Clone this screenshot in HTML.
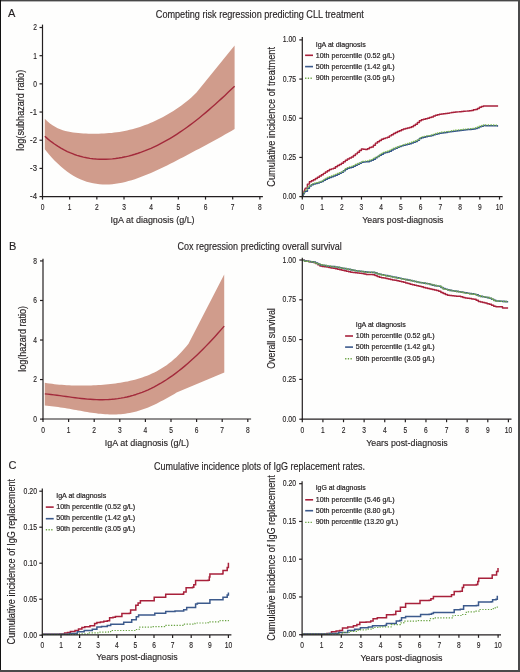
<!DOCTYPE html>
<html><head><meta charset="utf-8"><style>
html,body{margin:0;padding:0;background:#fff;}
#fig{will-change:transform;position:relative;width:520px;height:672px;overflow:hidden;background:#fefefd;}
svg{position:absolute;left:0;top:0;}
text{font-family:"Liberation Sans", sans-serif;fill:#231f20;}
text{stroke:#231f20;stroke-width:0.14px;}
text.lg{stroke-width:0.2px;}
</style></head><body><div id="fig">
<svg width="520" height="672" viewBox="0 0 520 672">
<rect x="0" y="0" width="520" height="672" fill="#fefefd"/>
<text x="8.00" y="17.10" font-size="11">A</text>
<text x="9.00" y="249.60" font-size="11">B</text>
<text x="8.40" y="469.40" font-size="11">C</text>
<text x="155.80" y="18.15" font-size="10.2" textLength="208.00" lengthAdjust="spacingAndGlyphs">Competing risk regression predicting CLL treatment</text>
<text x="177.60" y="250.10" font-size="10.2" textLength="164.10" lengthAdjust="spacingAndGlyphs">Cox regression predicting overall survival</text>
<text x="154.00" y="469.60" font-size="10.2" textLength="211.00" lengthAdjust="spacingAndGlyphs">Cumulative incidence plots of IgG replacement rates.</text>
<path d="M44.80,118.72 L47.37,121.27 L49.94,123.45 L52.51,125.29 L55.08,126.85 L57.66,128.15 L60.23,129.25 L62.80,130.16 L65.37,130.91 L67.94,131.54 L70.51,132.05 L73.08,132.47 L75.65,132.81 L78.23,133.09 L80.80,133.30 L83.37,133.47 L85.94,133.60 L88.51,133.68 L91.08,133.73 L93.65,133.75 L96.22,133.73 L98.79,133.68 L101.37,133.59 L103.94,133.47 L106.51,133.31 L109.08,133.12 L111.65,132.88 L114.22,132.60 L116.79,132.27 L119.36,131.89 L121.94,131.47 L124.51,130.99 L127.08,130.46 L129.65,129.87 L132.22,129.22 L134.79,128.52 L137.36,127.76 L139.93,126.94 L142.51,126.06 L145.08,125.12 L147.65,124.13 L150.22,123.07 L152.79,121.96 L155.36,120.79 L157.93,119.56 L160.50,118.28 L163.07,116.93 L165.65,115.53 L168.22,114.07 L170.79,112.54 L173.36,110.95 L175.93,109.29 L178.50,107.55 L181.07,105.73 L183.64,103.82 L186.22,101.81 L188.79,99.68 L191.36,97.42 L193.93,95.01 L196.50,92.43 L234.60,45.40 L234.60,128.99 L231.38,130.90 L228.17,132.77 L224.95,134.61 L221.73,136.42 L218.52,138.21 L215.30,139.98 L212.08,141.73 L208.86,143.47 L205.65,145.21 L202.43,146.93 L199.21,148.65 L196.00,150.36 L192.78,152.07 L189.56,153.77 L186.35,155.47 L183.13,157.16 L179.91,158.83 L176.69,160.50 L173.48,162.14 L170.26,163.77 L167.04,165.38 L163.83,166.96 L160.61,168.51 L157.39,170.02 L154.18,171.50 L150.96,172.92 L147.74,174.30 L144.53,175.62 L141.31,176.87 L138.09,178.06 L134.87,179.16 L131.66,180.19 L128.44,181.12 L125.22,181.96 L122.01,182.69 L118.79,183.31 L115.57,183.81 L112.36,184.18 L109.14,184.42 L105.92,184.51 L102.71,184.45 L99.49,184.24 L96.27,183.86 L93.05,183.30 L89.84,182.56 L86.62,181.64 L83.40,180.52 L80.19,179.19 L76.97,177.66 L73.75,175.90 L70.54,173.92 L67.32,171.71 L64.10,169.26 L60.88,166.57 L57.67,163.62 L54.45,160.42 L51.23,156.95 L48.02,153.22 L44.80,149.21 Z" fill="#d09c8c" stroke="none" stroke-linejoin="round"/>
<path d="M44.80,136.29 L48.02,139.10 L51.23,141.68 L54.45,144.04 L57.67,146.20 L60.88,148.16 L64.10,149.93 L67.32,151.53 L70.54,152.95 L73.75,154.22 L76.97,155.32 L80.19,156.28 L83.40,157.10 L86.62,157.78 L89.84,158.32 L93.05,158.74 L96.27,159.04 L99.49,159.22 L102.71,159.29 L105.92,159.24 L109.14,159.09 L112.36,158.83 L115.57,158.47 L118.79,158.02 L122.01,157.46 L125.22,156.81 L128.44,156.06 L131.66,155.22 L134.87,154.29 L138.09,153.27 L141.31,152.16 L144.53,150.96 L147.74,149.67 L150.96,148.30 L154.18,146.84 L157.39,145.30 L160.61,143.67 L163.83,141.96 L167.04,140.17 L170.26,138.30 L173.48,136.34 L176.69,134.31 L179.91,132.19 L183.13,130.00 L186.35,127.74 L189.56,125.39 L192.78,122.98 L196.00,120.50 L199.21,117.94 L202.43,115.32 L205.65,112.64 L208.86,109.89 L212.08,107.09 L215.30,104.24 L218.52,101.33 L221.73,98.38 L224.95,95.39 L228.17,92.36 L231.38,89.31 L234.60,86.22" fill="none" stroke="#a32a3b" stroke-width="1.4" stroke-linejoin="round"/>
<line x1="42.50" y1="24.60" x2="42.50" y2="197.20" stroke="#231f20" stroke-width="1.2"/>
<line x1="39.50" y1="27.50" x2="42.50" y2="27.50" stroke="#231f20" stroke-width="1.2"/>
<text x="37.00" y="30.40" font-size="8.2" text-anchor="end" textLength="3.70" lengthAdjust="spacingAndGlyphs">2</text>
<line x1="39.50" y1="55.68" x2="42.50" y2="55.68" stroke="#231f20" stroke-width="1.2"/>
<text x="37.00" y="58.58" font-size="8.2" text-anchor="end" textLength="3.70" lengthAdjust="spacingAndGlyphs">1</text>
<line x1="39.50" y1="83.86" x2="42.50" y2="83.86" stroke="#231f20" stroke-width="1.2"/>
<text x="37.00" y="86.76" font-size="8.2" text-anchor="end" textLength="3.70" lengthAdjust="spacingAndGlyphs">0</text>
<line x1="39.50" y1="112.04" x2="42.50" y2="112.04" stroke="#231f20" stroke-width="1.2"/>
<text x="37.00" y="114.94" font-size="8.2" text-anchor="end" textLength="6.90" lengthAdjust="spacingAndGlyphs">-1</text>
<line x1="39.50" y1="140.22" x2="42.50" y2="140.22" stroke="#231f20" stroke-width="1.2"/>
<text x="37.00" y="143.12" font-size="8.2" text-anchor="end" textLength="6.90" lengthAdjust="spacingAndGlyphs">-2</text>
<line x1="39.50" y1="168.40" x2="42.50" y2="168.40" stroke="#231f20" stroke-width="1.2"/>
<text x="37.00" y="171.30" font-size="8.2" text-anchor="end" textLength="6.90" lengthAdjust="spacingAndGlyphs">-3</text>
<line x1="39.50" y1="196.58" x2="42.50" y2="196.58" stroke="#231f20" stroke-width="1.2"/>
<text x="37.00" y="199.48" font-size="8.2" text-anchor="end" textLength="6.90" lengthAdjust="spacingAndGlyphs">-4</text>
<line x1="41.90" y1="196.60" x2="262.90" y2="196.60" stroke="#231f20" stroke-width="1.2"/>
<line x1="42.50" y1="196.60" x2="42.50" y2="199.60" stroke="#231f20" stroke-width="1.2"/>
<text x="42.50" y="209.80" font-size="8.2" text-anchor="middle" textLength="3.70" lengthAdjust="spacingAndGlyphs">0</text>
<line x1="69.67" y1="196.60" x2="69.67" y2="199.60" stroke="#231f20" stroke-width="1.2"/>
<text x="69.67" y="209.80" font-size="8.2" text-anchor="middle" textLength="3.70" lengthAdjust="spacingAndGlyphs">1</text>
<line x1="96.84" y1="196.60" x2="96.84" y2="199.60" stroke="#231f20" stroke-width="1.2"/>
<text x="96.84" y="209.80" font-size="8.2" text-anchor="middle" textLength="3.70" lengthAdjust="spacingAndGlyphs">2</text>
<line x1="124.01" y1="196.60" x2="124.01" y2="199.60" stroke="#231f20" stroke-width="1.2"/>
<text x="124.01" y="209.80" font-size="8.2" text-anchor="middle" textLength="3.70" lengthAdjust="spacingAndGlyphs">3</text>
<line x1="151.18" y1="196.60" x2="151.18" y2="199.60" stroke="#231f20" stroke-width="1.2"/>
<text x="151.18" y="209.80" font-size="8.2" text-anchor="middle" textLength="3.70" lengthAdjust="spacingAndGlyphs">4</text>
<line x1="178.35" y1="196.60" x2="178.35" y2="199.60" stroke="#231f20" stroke-width="1.2"/>
<text x="178.35" y="209.80" font-size="8.2" text-anchor="middle" textLength="3.70" lengthAdjust="spacingAndGlyphs">5</text>
<line x1="205.52" y1="196.60" x2="205.52" y2="199.60" stroke="#231f20" stroke-width="1.2"/>
<text x="205.52" y="209.80" font-size="8.2" text-anchor="middle" textLength="3.70" lengthAdjust="spacingAndGlyphs">6</text>
<line x1="232.69" y1="196.60" x2="232.69" y2="199.60" stroke="#231f20" stroke-width="1.2"/>
<text x="232.69" y="209.80" font-size="8.2" text-anchor="middle" textLength="3.70" lengthAdjust="spacingAndGlyphs">7</text>
<line x1="259.86" y1="196.60" x2="259.86" y2="199.60" stroke="#231f20" stroke-width="1.2"/>
<text x="259.86" y="209.80" font-size="8.2" text-anchor="middle" textLength="3.70" lengthAdjust="spacingAndGlyphs">8</text>
<text x="110.60" y="222.70" font-size="9.4" textLength="84.00" lengthAdjust="spacingAndGlyphs">IgA at diagnosis (g/L)</text>
<text x="24.00" y="110.30" font-size="10.3" text-anchor="middle" textLength="81.00" lengthAdjust="spacingAndGlyphs" transform="rotate(-90 24.00 110.30)">log(subhazard ratio)</text>
<path d="M302.50,196.20 L303.50,193.00 L305.40,188.10 L305.40,188.10 L307.40,188.10 L307.40,184.10 L309.40,184.10 L309.40,181.71 L311.40,181.71 L311.40,180.84 L313.40,180.84 L313.40,179.68 L315.40,179.68 L315.40,178.50 L317.40,178.50 L317.40,177.22 L319.40,177.22 L319.40,175.94 L321.40,175.94 L321.40,174.66 L323.40,174.66 L323.40,173.35 L325.40,173.35 L325.40,172.03 L327.40,172.03 L327.40,170.77 L329.40,170.77 L329.40,169.56 L331.40,169.56 L331.40,168.88 L333.40,168.88 L333.40,168.28 L335.40,168.28 L335.40,166.79 L337.40,166.79 L337.40,165.57 L339.40,165.57 L339.40,164.52 L341.40,164.52 L341.40,163.17 L343.40,163.17 L343.40,161.69 L345.40,161.69 L345.40,160.21 L347.40,160.21 L347.40,158.95 L349.40,158.95 L349.40,157.95 L351.40,157.95 L351.40,156.95 L353.40,156.95 L353.40,155.56 L355.40,155.56 L355.40,153.86 L357.40,153.86 L357.40,152.16 L359.40,152.16 L359.40,150.45 L361.40,150.45 L361.40,149.05 L363.40,149.05 L363.40,149.25 L365.40,149.25 L365.40,149.51 L367.40,149.51 L367.40,148.75 L369.40,148.75 L369.40,147.43 L371.40,147.43 L371.40,146.99 L373.40,146.99 L373.40,145.32 L375.40,145.32 L375.40,143.13 L377.40,143.13 L377.40,141.71 L379.40,141.71 L379.40,140.47 L381.40,140.47 L381.40,139.25 L383.40,139.25 L383.40,138.41 L385.40,138.41 L385.40,137.89 L387.40,137.89 L387.40,137.17 L389.40,137.17 L389.40,135.86 L391.40,135.86 L391.40,134.66 L393.40,134.66 L393.40,133.58 L395.40,133.58 L395.40,132.51 L397.40,132.51 L397.40,131.49 L399.40,131.49 L399.40,130.65 L401.40,130.65 L401.40,129.81 L403.40,129.81 L403.40,128.97 L405.40,128.97 L405.40,128.41 L407.40,128.41 L407.40,127.93 L409.40,127.93 L409.40,127.44 L411.40,127.44 L411.40,126.72 L413.40,126.72 L413.40,125.46 L415.40,125.46 L415.40,124.20 L417.40,124.20 L417.40,122.49 L419.40,122.49 L419.40,120.75 L421.40,120.75 L421.40,119.83 L423.40,119.83 L423.40,119.31 L425.40,119.31 L425.40,118.77 L427.40,118.77 L427.40,118.18 L429.40,118.18 L429.40,117.59 L431.40,117.59 L431.40,116.90 L433.40,116.90 L433.40,116.09 L435.40,116.09 L435.40,115.28 L437.40,115.28 L437.40,114.73 L439.40,114.73 L439.40,114.32 L441.40,114.32 L441.40,113.90 L443.40,113.90 L443.40,113.65 L445.40,113.65 L445.40,113.44 L447.40,113.44 L447.40,113.15 L449.40,113.15 L449.40,112.86 L451.40,112.86 L451.40,112.57 L453.40,112.57 L453.40,112.33 L455.40,112.33 L455.40,112.09 L457.40,112.09 L457.40,111.86 L459.40,111.86 L459.40,111.65 L461.40,111.65 L461.40,111.48 L463.40,111.48 L463.40,111.31 L465.40,111.31 L465.40,111.13 L467.40,111.13 L467.40,110.95 L469.40,110.95 L469.40,110.75 L471.40,110.75 L471.40,110.41 L473.40,110.41 L473.40,109.72 L475.40,109.72 L475.40,109.48 L477.40,109.48 L477.40,108.55 L479.40,108.55 L479.40,107.23 L481.40,107.23 L481.40,106.53 L483.40,106.53 L483.40,106.00 L485.40,106.00 L485.40,106.00 L487.40,106.00 L487.40,106.00 L489.40,106.00 L489.40,106.00 L491.40,106.00 L491.40,106.00 L493.40,106.00 L493.40,106.00 L495.40,106.00 L495.40,106.00 L497.40,106.00 L497.40,106.00 L498.10,106.00" fill="none" stroke="#a8213b" stroke-width="1.45" stroke-linejoin="round"/>
<path d="M302.50,196.20 L303.50,194.50 L305.40,191.20 L305.40,191.20 L307.40,191.20 L307.40,188.17 L309.40,188.17 L309.40,185.93 L311.40,185.93 L311.40,184.66 L313.40,184.66 L313.40,184.06 L315.40,184.06 L315.40,183.50 L317.40,183.50 L317.40,182.91 L319.40,182.91 L319.40,182.31 L321.40,182.31 L321.40,181.52 L323.40,181.52 L323.40,180.25 L325.40,180.25 L325.40,179.22 L327.40,179.22 L327.40,178.24 L329.40,178.24 L329.40,177.42 L331.40,177.42 L331.40,176.78 L333.40,176.78 L333.40,176.02 L335.40,176.02 L335.40,175.15 L337.40,175.15 L337.40,174.26 L339.40,174.26 L339.40,173.37 L341.40,173.37 L341.40,172.13 L343.40,172.13 L343.40,170.75 L345.40,170.75 L345.40,169.36 L347.40,169.36 L347.40,168.34 L349.40,168.34 L349.40,167.75 L351.40,167.75 L351.40,167.16 L353.40,167.16 L353.40,166.33 L355.40,166.33 L355.40,165.28 L357.40,165.28 L357.40,164.24 L359.40,164.24 L359.40,163.20 L361.40,163.20 L361.40,162.15 L363.40,162.15 L363.40,161.97 L365.40,161.97 L365.40,161.83 L367.40,161.83 L367.40,161.67 L369.40,161.67 L369.40,161.02 L371.40,161.02 L371.40,160.36 L373.40,160.36 L373.40,159.20 L375.40,159.20 L375.40,157.87 L377.40,157.87 L377.40,156.53 L379.40,156.53 L379.40,155.27 L381.40,155.27 L381.40,154.19 L383.40,154.19 L383.40,153.10 L385.40,153.10 L385.40,152.58 L387.40,152.58 L387.40,152.06 L389.40,152.06 L389.40,151.16 L391.40,151.16 L391.40,150.11 L393.40,150.11 L393.40,149.05 L395.40,149.05 L395.40,148.19 L397.40,148.19 L397.40,147.34 L399.40,147.34 L399.40,146.49 L401.40,146.49 L401.40,145.64 L403.40,145.64 L403.40,145.13 L405.40,145.13 L405.40,144.64 L407.40,144.64 L407.40,144.14 L409.40,144.14 L409.40,143.65 L411.40,143.65 L411.40,143.06 L413.40,143.06 L413.40,142.25 L415.40,142.25 L415.40,141.44 L417.40,141.44 L417.40,140.25 L419.40,140.25 L419.40,138.60 L421.40,138.60 L421.40,137.73 L423.40,137.73 L423.40,137.21 L425.40,137.21 L425.40,136.75 L427.40,136.75 L427.40,136.37 L429.40,136.37 L429.40,135.99 L431.40,135.99 L431.40,135.48 L433.40,135.48 L433.40,134.85 L435.40,134.85 L435.40,134.22 L437.40,134.22 L437.40,133.75 L439.40,133.75 L439.40,133.37 L441.40,133.37 L441.40,132.99 L443.40,132.99 L443.40,132.71 L445.40,132.71 L445.40,132.43 L447.40,132.43 L447.40,132.08 L449.40,132.08 L449.40,131.73 L451.40,131.73 L451.40,131.39 L453.40,131.39 L453.40,131.13 L455.40,131.13 L455.40,130.89 L457.40,130.89 L457.40,130.66 L459.40,130.66 L459.40,130.44 L461.40,130.44 L461.40,130.24 L463.40,130.24 L463.40,130.04 L465.40,130.04 L465.40,129.84 L467.40,129.84 L467.40,129.61 L469.40,129.61 L469.40,129.38 L471.40,129.38 L471.40,129.15 L473.40,129.15 L473.40,128.88 L475.40,128.88 L475.40,128.52 L477.40,128.52 L477.40,127.77 L479.40,127.77 L479.40,126.80 L481.40,126.80 L481.40,126.13 L483.40,126.13 L483.40,125.61 L485.40,125.61 L485.40,125.65 L487.40,125.65 L487.40,125.69 L489.40,125.69 L489.40,125.73 L491.40,125.73 L491.40,125.77 L493.40,125.77 L493.40,125.81 L495.40,125.81 L495.40,125.85 L497.40,125.85 L497.40,125.89 L498.10,125.89" fill="none" stroke="#34548a" stroke-width="1.5" stroke-linejoin="round"/>
<path d="M302.50,195.40 L303.50,193.70 L305.40,190.40 L305.40,190.40 L307.40,190.40 L307.40,187.37 L309.40,187.37 L309.40,185.13 L311.40,185.13 L311.40,183.86 L313.40,183.86 L313.40,183.26 L315.40,183.26 L315.40,182.70 L317.40,182.70 L317.40,182.11 L319.40,182.11 L319.40,181.51 L321.40,181.51 L321.40,180.72 L323.40,180.72 L323.40,179.45 L325.40,179.45 L325.40,178.42 L327.40,178.42 L327.40,177.44 L329.40,177.44 L329.40,176.62 L331.40,176.62 L331.40,175.98 L333.40,175.98 L333.40,175.22 L335.40,175.22 L335.40,174.35 L337.40,174.35 L337.40,173.46 L339.40,173.46 L339.40,172.57 L341.40,172.57 L341.40,171.33 L343.40,171.33 L343.40,169.95 L345.40,169.95 L345.40,168.56 L347.40,168.56 L347.40,167.54 L349.40,167.54 L349.40,166.95 L351.40,166.95 L351.40,166.36 L353.40,166.36 L353.40,165.53 L355.40,165.53 L355.40,164.48 L357.40,164.48 L357.40,163.44 L359.40,163.44 L359.40,162.40 L361.40,162.40 L361.40,161.35 L363.40,161.35 L363.40,161.17 L365.40,161.17 L365.40,161.03 L367.40,161.03 L367.40,160.87 L369.40,160.87 L369.40,160.22 L371.40,160.22 L371.40,159.56 L373.40,159.56 L373.40,158.40 L375.40,158.40 L375.40,157.07 L377.40,157.07 L377.40,155.73 L379.40,155.73 L379.40,154.47 L381.40,154.47 L381.40,153.39 L383.40,153.39 L383.40,152.30 L385.40,152.30 L385.40,151.78 L387.40,151.78 L387.40,151.26 L389.40,151.26 L389.40,150.36 L391.40,150.36 L391.40,149.31 L393.40,149.31 L393.40,148.25 L395.40,148.25 L395.40,147.39 L397.40,147.39 L397.40,146.54 L399.40,146.54 L399.40,145.69 L401.40,145.69 L401.40,144.84 L403.40,144.84 L403.40,144.33 L405.40,144.33 L405.40,143.84 L407.40,143.84 L407.40,143.34 L409.40,143.34 L409.40,142.85 L411.40,142.85 L411.40,142.26 L413.40,142.26 L413.40,141.45 L415.40,141.45 L415.40,140.64 L417.40,140.64 L417.40,139.45 L419.40,139.45 L419.40,137.80 L421.40,137.80 L421.40,136.93 L423.40,136.93 L423.40,136.41 L425.40,136.41 L425.40,135.95 L427.40,135.95 L427.40,135.57 L429.40,135.57 L429.40,135.19 L431.40,135.19 L431.40,134.68 L433.40,134.68 L433.40,134.05 L435.40,134.05 L435.40,133.42 L437.40,133.42 L437.40,132.95 L439.40,132.95 L439.40,132.57 L441.40,132.57 L441.40,132.19 L443.40,132.19 L443.40,131.91 L445.40,131.91 L445.40,131.63 L447.40,131.63 L447.40,131.28 L449.40,131.28 L449.40,130.93 L451.40,130.93 L451.40,130.59 L453.40,130.59 L453.40,130.33 L455.40,130.33 L455.40,130.09 L457.40,130.09 L457.40,129.86 L459.40,129.86 L459.40,129.64 L461.40,129.64 L461.40,129.44 L463.40,129.44 L463.40,129.24 L465.40,129.24 L465.40,129.04 L467.40,129.04 L467.40,128.81 L469.40,128.81 L469.40,128.58 L471.40,128.58 L471.40,128.35 L473.40,128.35 L473.40,128.08 L475.40,128.08 L475.40,127.72 L477.40,127.72 L477.40,126.97 L479.40,126.97 L479.40,126.00 L481.40,126.00 L481.40,125.33 L483.40,125.33 L483.40,124.81 L485.40,124.81 L485.40,124.85 L487.40,124.85 L487.40,124.89 L489.40,124.89 L489.40,124.93 L491.40,124.93 L491.40,124.97 L493.40,124.97 L493.40,125.01 L495.40,125.01 L495.40,125.05 L497.40,125.05 L497.40,125.09 L498.10,125.09" fill="none" stroke="#7fbd4a" stroke-width="1.3" stroke-linejoin="round" stroke-dasharray="1.3,1.4"/>
<line x1="302.30" y1="36.90" x2="302.30" y2="197.20" stroke="#231f20" stroke-width="1.2"/>
<line x1="299.30" y1="39.90" x2="302.30" y2="39.90" stroke="#231f20" stroke-width="1.2"/>
<text x="296.20" y="42.40" font-size="8.2" text-anchor="end" textLength="13.40" lengthAdjust="spacingAndGlyphs">1.00</text>
<line x1="299.30" y1="79.08" x2="302.30" y2="79.08" stroke="#231f20" stroke-width="1.2"/>
<text x="296.20" y="81.58" font-size="8.2" text-anchor="end" textLength="13.40" lengthAdjust="spacingAndGlyphs">0.75</text>
<line x1="299.30" y1="118.26" x2="302.30" y2="118.26" stroke="#231f20" stroke-width="1.2"/>
<text x="296.20" y="120.76" font-size="8.2" text-anchor="end" textLength="13.40" lengthAdjust="spacingAndGlyphs">0.50</text>
<line x1="299.30" y1="157.44" x2="302.30" y2="157.44" stroke="#231f20" stroke-width="1.2"/>
<text x="296.20" y="159.94" font-size="8.2" text-anchor="end" textLength="13.40" lengthAdjust="spacingAndGlyphs">0.25</text>
<line x1="299.30" y1="196.62" x2="302.30" y2="196.62" stroke="#231f20" stroke-width="1.2"/>
<text x="296.20" y="199.12" font-size="8.2" text-anchor="end" textLength="13.40" lengthAdjust="spacingAndGlyphs">0.00</text>
<line x1="301.70" y1="196.60" x2="502.60" y2="196.60" stroke="#231f20" stroke-width="1.2"/>
<line x1="302.30" y1="196.60" x2="302.30" y2="199.60" stroke="#231f20" stroke-width="1.2"/>
<text x="302.30" y="209.80" font-size="8.2" text-anchor="middle" textLength="3.70" lengthAdjust="spacingAndGlyphs">0</text>
<line x1="322.02" y1="196.60" x2="322.02" y2="199.60" stroke="#231f20" stroke-width="1.2"/>
<text x="322.02" y="209.80" font-size="8.2" text-anchor="middle" textLength="3.70" lengthAdjust="spacingAndGlyphs">1</text>
<line x1="341.74" y1="196.60" x2="341.74" y2="199.60" stroke="#231f20" stroke-width="1.2"/>
<text x="341.74" y="209.80" font-size="8.2" text-anchor="middle" textLength="3.70" lengthAdjust="spacingAndGlyphs">2</text>
<line x1="361.46" y1="196.60" x2="361.46" y2="199.60" stroke="#231f20" stroke-width="1.2"/>
<text x="361.46" y="209.80" font-size="8.2" text-anchor="middle" textLength="3.70" lengthAdjust="spacingAndGlyphs">3</text>
<line x1="381.18" y1="196.60" x2="381.18" y2="199.60" stroke="#231f20" stroke-width="1.2"/>
<text x="381.18" y="209.80" font-size="8.2" text-anchor="middle" textLength="3.70" lengthAdjust="spacingAndGlyphs">4</text>
<line x1="400.90" y1="196.60" x2="400.90" y2="199.60" stroke="#231f20" stroke-width="1.2"/>
<text x="400.90" y="209.80" font-size="8.2" text-anchor="middle" textLength="3.70" lengthAdjust="spacingAndGlyphs">5</text>
<line x1="420.62" y1="196.60" x2="420.62" y2="199.60" stroke="#231f20" stroke-width="1.2"/>
<text x="420.62" y="209.80" font-size="8.2" text-anchor="middle" textLength="3.70" lengthAdjust="spacingAndGlyphs">6</text>
<line x1="440.34" y1="196.60" x2="440.34" y2="199.60" stroke="#231f20" stroke-width="1.2"/>
<text x="440.34" y="209.80" font-size="8.2" text-anchor="middle" textLength="3.70" lengthAdjust="spacingAndGlyphs">7</text>
<line x1="460.06" y1="196.60" x2="460.06" y2="199.60" stroke="#231f20" stroke-width="1.2"/>
<text x="460.06" y="209.80" font-size="8.2" text-anchor="middle" textLength="3.70" lengthAdjust="spacingAndGlyphs">8</text>
<line x1="479.78" y1="196.60" x2="479.78" y2="199.60" stroke="#231f20" stroke-width="1.2"/>
<text x="479.78" y="209.80" font-size="8.2" text-anchor="middle" textLength="3.70" lengthAdjust="spacingAndGlyphs">9</text>
<line x1="499.50" y1="196.60" x2="499.50" y2="199.60" stroke="#231f20" stroke-width="1.2"/>
<text x="499.50" y="209.80" font-size="8.2" text-anchor="middle" textLength="7.50" lengthAdjust="spacingAndGlyphs">10</text>
<text x="362.30" y="222.90" font-size="9.4" textLength="81.20" lengthAdjust="spacingAndGlyphs">Years post-diagnosis</text>
<text x="274.70" y="116.85" font-size="10.3" text-anchor="middle" textLength="139.70" lengthAdjust="spacingAndGlyphs" transform="rotate(-90 274.70 116.85)">Cumulative incidence of treatment</text>
<text x="315.70" y="46.70" font-size="7.2" textLength="50.00" lengthAdjust="spacingAndGlyphs" class="lg">IgA at diagnosis</text>
<line x1="305.10" y1="55.30" x2="313.00" y2="55.30" stroke="#a8213b" stroke-width="1.6"/>
<line x1="305.10" y1="66.60" x2="313.00" y2="66.60" stroke="#3c5a8c" stroke-width="1.6"/>
<line x1="305.10" y1="78.20" x2="313.00" y2="78.20" stroke="#6aa443" stroke-width="1.4" stroke-dasharray="1.3,1.4"/>
<text x="315.70" y="57.70" font-size="7.2" textLength="79.00" lengthAdjust="spacingAndGlyphs" class="lg">10th percentile (0.52 g/L)</text>
<text x="315.70" y="68.80" font-size="7.2" textLength="79.00" lengthAdjust="spacingAndGlyphs" class="lg">50th percentile (1.42 g/L)</text>
<text x="315.70" y="80.30" font-size="7.2" textLength="79.00" lengthAdjust="spacingAndGlyphs" class="lg">90th percentile (3.05 g/L)</text>
<path d="M44.80,382.74 L47.24,383.14 L49.67,383.51 L52.11,383.84 L54.54,384.14 L56.98,384.40 L59.41,384.64 L61.85,384.84 L64.28,385.02 L66.72,385.17 L69.16,385.30 L71.59,385.40 L74.03,385.48 L76.46,385.54 L78.90,385.57 L81.33,385.58 L83.77,385.57 L86.21,385.54 L88.64,385.49 L91.08,385.42 L93.51,385.32 L95.95,385.21 L98.38,385.07 L100.82,384.91 L103.25,384.73 L105.69,384.53 L108.13,384.30 L110.56,384.04 L113.00,383.76 L115.43,383.45 L117.87,383.11 L120.30,382.73 L122.74,382.32 L125.17,381.87 L127.61,381.39 L130.05,380.86 L132.48,380.28 L134.92,379.66 L137.35,378.98 L139.79,378.25 L142.22,377.45 L144.66,376.59 L147.09,375.67 L149.53,374.66 L151.97,373.59 L154.40,372.42 L156.84,371.17 L159.27,369.82 L161.71,368.37 L164.14,366.81 L166.58,365.14 L169.02,363.35 L171.45,361.42 L173.89,359.37 L176.32,357.16 L178.76,354.81 L181.19,352.29 L183.63,349.60 L186.06,346.74 L188.50,343.68 L224.20,274.50 L224.30,372.60 L176.60,392.62 L174.37,393.89 L172.13,395.16 L169.90,396.44 L167.66,397.70 L165.43,398.94 L163.20,400.16 L160.96,401.35 L158.73,402.51 L156.49,403.63 L154.26,404.70 L152.03,405.73 L149.79,406.71 L147.56,407.63 L145.33,408.50 L143.09,409.32 L140.86,410.07 L138.62,410.77 L136.39,411.40 L134.16,411.98 L131.92,412.49 L129.69,412.94 L127.45,413.34 L125.22,413.67 L122.99,413.94 L120.75,414.16 L118.52,414.32 L116.28,414.43 L114.05,414.49 L111.82,414.49 L109.58,414.45 L107.35,414.37 L105.12,414.24 L102.88,414.07 L100.65,413.86 L98.41,413.63 L96.18,413.36 L93.95,413.06 L91.71,412.74 L89.48,412.39 L87.24,412.03 L85.01,411.66 L82.78,411.27 L80.54,410.87 L78.31,410.47 L76.07,410.07 L73.84,409.66 L71.61,409.26 L69.37,408.87 L67.14,408.49 L64.91,408.11 L62.67,407.75 L60.44,407.41 L58.20,407.08 L55.97,406.78 L53.74,406.49 L51.50,406.23 L49.27,405.99 L47.03,405.78 L44.80,405.59 Z" fill="#d09c8c" stroke="none" stroke-linejoin="round"/>
<path d="M44.80,393.89 L47.84,394.16 L50.88,394.48 L53.92,394.84 L56.96,395.23 L60.00,395.65 L63.04,396.07 L66.08,396.50 L69.13,396.93 L72.17,397.35 L75.21,397.75 L78.25,398.14 L81.29,398.49 L84.33,398.81 L87.37,399.09 L90.41,399.32 L93.45,399.50 L96.49,399.63 L99.53,399.70 L102.57,399.70 L105.61,399.63 L108.65,399.49 L111.69,399.28 L114.74,398.98 L117.78,398.60 L120.82,398.14 L123.86,397.59 L126.90,396.95 L129.94,396.21 L132.98,395.38 L136.02,394.46 L139.06,393.43 L142.10,392.31 L145.14,391.09 L148.18,389.77 L151.22,388.35 L154.26,386.83 L157.31,385.20 L160.35,383.48 L163.39,381.65 L166.43,379.72 L169.47,377.69 L172.51,375.57 L175.55,373.34 L178.59,371.02 L181.63,368.61 L184.67,366.10 L187.71,363.50 L190.75,360.82 L193.79,358.04 L196.83,355.18 L199.87,352.24 L202.92,349.22 L205.96,346.12 L209.00,342.95 L212.04,339.71 L215.08,336.41 L218.12,333.04 L221.16,329.61 L224.20,326.13" fill="none" stroke="#a32a3b" stroke-width="1.4" stroke-linejoin="round"/>
<line x1="43.00" y1="258.80" x2="43.00" y2="419.60" stroke="#231f20" stroke-width="1.2"/>
<line x1="40.00" y1="260.94" x2="43.00" y2="260.94" stroke="#231f20" stroke-width="1.2"/>
<text x="37.00" y="263.64" font-size="8.2" text-anchor="end" textLength="3.70" lengthAdjust="spacingAndGlyphs">8</text>
<line x1="40.00" y1="300.48" x2="43.00" y2="300.48" stroke="#231f20" stroke-width="1.2"/>
<text x="37.00" y="303.18" font-size="8.2" text-anchor="end" textLength="3.70" lengthAdjust="spacingAndGlyphs">6</text>
<line x1="40.00" y1="340.02" x2="43.00" y2="340.02" stroke="#231f20" stroke-width="1.2"/>
<text x="37.00" y="342.72" font-size="8.2" text-anchor="end" textLength="3.70" lengthAdjust="spacingAndGlyphs">4</text>
<line x1="40.00" y1="379.56" x2="43.00" y2="379.56" stroke="#231f20" stroke-width="1.2"/>
<text x="37.00" y="382.26" font-size="8.2" text-anchor="end" textLength="3.70" lengthAdjust="spacingAndGlyphs">2</text>
<line x1="40.00" y1="419.10" x2="43.00" y2="419.10" stroke="#231f20" stroke-width="1.2"/>
<text x="37.00" y="421.80" font-size="8.2" text-anchor="end" textLength="3.70" lengthAdjust="spacingAndGlyphs">0</text>
<line x1="42.40" y1="419.00" x2="251.10" y2="419.00" stroke="#231f20" stroke-width="1.2"/>
<line x1="43.00" y1="419.00" x2="43.00" y2="422.00" stroke="#231f20" stroke-width="1.2"/>
<text x="43.00" y="432.60" font-size="8.2" text-anchor="middle" textLength="3.70" lengthAdjust="spacingAndGlyphs">0</text>
<line x1="68.60" y1="419.00" x2="68.60" y2="422.00" stroke="#231f20" stroke-width="1.2"/>
<text x="68.60" y="432.60" font-size="8.2" text-anchor="middle" textLength="3.70" lengthAdjust="spacingAndGlyphs">1</text>
<line x1="94.20" y1="419.00" x2="94.20" y2="422.00" stroke="#231f20" stroke-width="1.2"/>
<text x="94.20" y="432.60" font-size="8.2" text-anchor="middle" textLength="3.70" lengthAdjust="spacingAndGlyphs">2</text>
<line x1="119.80" y1="419.00" x2="119.80" y2="422.00" stroke="#231f20" stroke-width="1.2"/>
<text x="119.80" y="432.60" font-size="8.2" text-anchor="middle" textLength="3.70" lengthAdjust="spacingAndGlyphs">3</text>
<line x1="145.40" y1="419.00" x2="145.40" y2="422.00" stroke="#231f20" stroke-width="1.2"/>
<text x="145.40" y="432.60" font-size="8.2" text-anchor="middle" textLength="3.70" lengthAdjust="spacingAndGlyphs">4</text>
<line x1="171.00" y1="419.00" x2="171.00" y2="422.00" stroke="#231f20" stroke-width="1.2"/>
<text x="171.00" y="432.60" font-size="8.2" text-anchor="middle" textLength="3.70" lengthAdjust="spacingAndGlyphs">5</text>
<line x1="196.60" y1="419.00" x2="196.60" y2="422.00" stroke="#231f20" stroke-width="1.2"/>
<text x="196.60" y="432.60" font-size="8.2" text-anchor="middle" textLength="3.70" lengthAdjust="spacingAndGlyphs">6</text>
<line x1="222.20" y1="419.00" x2="222.20" y2="422.00" stroke="#231f20" stroke-width="1.2"/>
<text x="222.20" y="432.60" font-size="8.2" text-anchor="middle" textLength="3.70" lengthAdjust="spacingAndGlyphs">7</text>
<line x1="247.80" y1="419.00" x2="247.80" y2="422.00" stroke="#231f20" stroke-width="1.2"/>
<text x="247.80" y="432.60" font-size="8.2" text-anchor="middle" textLength="3.70" lengthAdjust="spacingAndGlyphs">8</text>
<text x="104.80" y="445.80" font-size="9.4" textLength="84.20" lengthAdjust="spacingAndGlyphs">IgA at diagnosis (g/L)</text>
<text x="26.50" y="338.90" font-size="10.3" text-anchor="middle" textLength="65.80" lengthAdjust="spacingAndGlyphs" transform="rotate(-90 26.50 338.90)">log(hazard ratio)</text>
<path d="M302.30,260.30 L304.50,260.30 L304.50,260.97 L306.70,260.97 L306.70,261.33 L308.90,261.33 L308.90,261.69 L311.10,261.69 L311.10,262.05 L313.30,262.05 L313.30,262.42 L315.50,262.42 L315.50,263.53 L317.70,263.53 L317.70,264.85 L319.90,264.85 L319.90,266.05 L322.10,266.05 L322.10,266.40 L324.30,266.40 L324.30,266.75 L326.50,266.75 L326.50,267.10 L328.70,267.10 L328.70,267.51 L330.90,267.51 L330.90,267.91 L333.10,267.91 L333.10,268.32 L335.30,268.32 L335.30,268.75 L337.50,268.75 L337.50,269.23 L339.70,269.23 L339.70,269.71 L341.90,269.71 L341.90,270.19 L344.10,270.19 L344.10,270.67 L346.30,270.67 L346.30,271.15 L348.50,271.15 L348.50,271.68 L350.70,271.68 L350.70,272.21 L352.90,272.21 L352.90,272.59 L355.10,272.59 L355.10,272.78 L357.30,272.78 L357.30,272.97 L359.50,272.97 L359.50,273.16 L361.70,273.16 L361.70,273.54 L363.90,273.54 L363.90,273.98 L366.10,273.98 L366.10,274.42 L368.30,274.42 L368.30,274.55 L370.50,274.55 L370.50,274.61 L372.70,274.61 L372.70,274.68 L374.90,274.68 L374.90,275.40 L377.10,275.40 L377.10,276.50 L379.30,276.50 L379.30,277.24 L381.50,277.24 L381.50,277.68 L383.70,277.68 L383.70,278.12 L385.90,278.12 L385.90,278.56 L388.10,278.56 L388.10,279.00 L390.30,279.00 L390.30,279.44 L392.50,279.44 L392.50,279.88 L394.70,279.88 L394.70,280.32 L396.90,280.32 L396.90,280.76 L399.10,280.76 L399.10,281.20 L401.30,281.20 L401.30,281.66 L403.50,281.66 L403.50,282.28 L405.70,282.28 L405.70,282.91 L407.90,282.91 L407.90,283.53 L410.10,283.53 L410.10,284.13 L412.30,284.13 L412.30,284.70 L414.50,284.70 L414.50,285.27 L416.70,285.27 L416.70,285.81 L418.90,285.81 L418.90,286.34 L421.10,286.34 L421.10,286.86 L423.30,286.86 L423.30,287.38 L425.50,287.38 L425.50,287.92 L427.70,287.92 L427.70,288.46 L429.90,288.46 L429.90,289.01 L432.10,289.01 L432.10,289.55 L434.30,289.55 L434.30,290.01 L436.50,290.01 L436.50,290.39 L438.70,290.39 L438.70,291.17 L440.90,291.17 L440.90,292.41 L443.10,292.41 L443.10,293.52 L445.30,293.52 L445.30,294.39 L447.50,294.39 L447.50,295.26 L449.70,295.26 L449.70,295.62 L451.90,295.62 L451.90,295.80 L454.10,295.80 L454.10,295.97 L456.30,295.97 L456.30,296.14 L458.50,296.14 L458.50,296.32 L460.70,296.32 L460.70,296.85 L462.90,296.85 L462.90,297.38 L465.10,297.38 L465.10,297.91 L467.30,297.91 L467.30,298.33 L469.50,298.33 L469.50,298.61 L471.70,298.61 L471.70,298.90 L473.90,298.90 L473.90,299.18 L476.10,299.18 L476.10,300.15 L478.30,300.15 L478.30,301.47 L480.50,301.47 L480.50,302.01 L482.70,302.01 L482.70,302.55 L484.90,302.55 L484.90,303.09 L487.10,303.09 L487.10,303.63 L489.30,303.63 L489.30,304.30 L491.50,304.30 L491.50,305.24 L493.70,305.24 L493.70,306.19 L495.90,306.19 L495.90,306.70 L498.10,306.70 L498.10,306.70 L500.30,306.70 L500.30,306.77 L502.50,306.77 L502.50,308.10 L504.70,308.10 L504.70,308.10 L506.90,308.10 L506.90,308.10 L508.10,308.10" fill="none" stroke="#a8213b" stroke-width="1.5" stroke-linejoin="round"/>
<path d="M302.30,260.30 L304.50,260.30 L304.50,260.94 L306.70,260.94 L306.70,261.23 L308.90,261.23 L308.90,261.53 L311.10,261.53 L311.10,261.83 L313.30,261.83 L313.30,262.13 L315.50,262.13 L315.50,262.96 L317.70,262.96 L317.70,263.95 L319.90,263.95 L319.90,264.85 L322.10,264.85 L322.10,265.21 L324.30,265.21 L324.30,265.57 L326.50,265.57 L326.50,265.93 L328.70,265.93 L328.70,266.28 L330.90,266.28 L330.90,266.48 L333.10,266.48 L333.10,266.67 L335.30,266.67 L335.30,266.93 L337.50,266.93 L337.50,267.35 L339.70,267.35 L339.70,267.77 L341.90,267.77 L341.90,268.18 L344.10,268.18 L344.10,268.59 L346.30,268.59 L346.30,269.01 L348.50,269.01 L348.50,269.42 L350.70,269.42 L350.70,269.85 L352.90,269.85 L352.90,270.29 L355.10,270.29 L355.10,270.71 L357.30,270.71 L357.30,271.00 L359.50,271.00 L359.50,271.29 L361.70,271.29 L361.70,271.57 L363.90,271.57 L363.90,271.86 L366.10,271.86 L366.10,272.15 L368.30,272.15 L368.30,272.25 L370.50,272.25 L370.50,272.31 L372.70,272.31 L372.70,272.38 L374.90,272.38 L374.90,272.92 L377.10,272.92 L377.10,273.73 L379.30,273.73 L379.30,274.34 L381.50,274.34 L381.50,274.78 L383.70,274.78 L383.70,275.22 L385.90,275.22 L385.90,275.66 L388.10,275.66 L388.10,276.10 L390.30,276.10 L390.30,276.54 L392.50,276.54 L392.50,276.98 L394.70,276.98 L394.70,277.42 L396.90,277.42 L396.90,277.86 L399.10,277.86 L399.10,278.30 L401.30,278.30 L401.30,278.74 L403.50,278.74 L403.50,279.19 L405.70,279.19 L405.70,279.63 L407.90,279.63 L407.90,280.08 L410.10,280.08 L410.10,280.52 L412.30,280.52 L412.30,281.00 L414.50,281.00 L414.50,281.48 L416.70,281.48 L416.70,281.96 L418.90,281.96 L418.90,282.43 L421.10,282.43 L421.10,282.78 L423.30,282.78 L423.30,283.11 L425.50,283.11 L425.50,283.43 L427.70,283.43 L427.70,283.82 L429.90,283.82 L429.90,284.46 L432.10,284.46 L432.10,285.11 L434.30,285.11 L434.30,285.59 L436.50,285.59 L436.50,285.94 L438.70,285.94 L438.70,286.28 L440.90,286.28 L440.90,287.44 L443.10,287.44 L443.10,288.64 L445.30,288.64 L445.30,289.29 L447.50,289.29 L447.50,289.85 L449.70,289.85 L449.70,290.42 L451.90,290.42 L451.90,290.81 L454.10,290.81 L454.10,291.11 L456.30,291.11 L456.30,291.41 L458.50,291.41 L458.50,291.72 L460.70,291.72 L460.70,292.11 L462.90,292.11 L462.90,292.50 L465.10,292.50 L465.10,292.89 L467.30,292.89 L467.30,293.29 L469.50,293.29 L469.50,293.63 L471.70,293.63 L471.70,293.91 L473.90,293.91 L473.90,294.19 L476.10,294.19 L476.10,294.86 L478.30,294.86 L478.30,295.80 L480.50,295.80 L480.50,296.38 L482.70,296.38 L482.70,296.79 L484.90,296.79 L484.90,297.21 L487.10,297.21 L487.10,297.62 L489.30,297.62 L489.30,298.23 L491.50,298.23 L491.50,299.28 L493.70,299.28 L493.70,300.33 L495.90,300.33 L495.90,300.97 L498.10,300.97 L498.10,301.12 L500.30,301.12 L500.30,301.26 L502.50,301.26 L502.50,301.42 L504.70,301.42 L504.70,301.61 L506.90,301.61 L506.90,301.80 L508.10,301.80" fill="none" stroke="#3c5a8c" stroke-width="1.6" stroke-linejoin="round"/>
<path d="M302.30,260.30 L304.50,260.30 L304.50,260.94 L306.70,260.94 L306.70,261.23 L308.90,261.23 L308.90,261.53 L311.10,261.53 L311.10,261.83 L313.30,261.83 L313.30,262.13 L315.50,262.13 L315.50,262.96 L317.70,262.96 L317.70,263.95 L319.90,263.95 L319.90,264.85 L322.10,264.85 L322.10,265.21 L324.30,265.21 L324.30,265.57 L326.50,265.57 L326.50,265.93 L328.70,265.93 L328.70,266.28 L330.90,266.28 L330.90,266.48 L333.10,266.48 L333.10,266.67 L335.30,266.67 L335.30,266.93 L337.50,266.93 L337.50,267.35 L339.70,267.35 L339.70,267.77 L341.90,267.77 L341.90,268.18 L344.10,268.18 L344.10,268.59 L346.30,268.59 L346.30,269.01 L348.50,269.01 L348.50,269.42 L350.70,269.42 L350.70,269.85 L352.90,269.85 L352.90,270.29 L355.10,270.29 L355.10,270.71 L357.30,270.71 L357.30,271.00 L359.50,271.00 L359.50,271.29 L361.70,271.29 L361.70,271.57 L363.90,271.57 L363.90,271.86 L366.10,271.86 L366.10,272.15 L368.30,272.15 L368.30,272.25 L370.50,272.25 L370.50,272.31 L372.70,272.31 L372.70,272.38 L374.90,272.38 L374.90,272.92 L377.10,272.92 L377.10,273.73 L379.30,273.73 L379.30,274.34 L381.50,274.34 L381.50,274.78 L383.70,274.78 L383.70,275.22 L385.90,275.22 L385.90,275.66 L388.10,275.66 L388.10,276.10 L390.30,276.10 L390.30,276.54 L392.50,276.54 L392.50,276.98 L394.70,276.98 L394.70,277.42 L396.90,277.42 L396.90,277.86 L399.10,277.86 L399.10,278.30 L401.30,278.30 L401.30,278.74 L403.50,278.74 L403.50,279.19 L405.70,279.19 L405.70,279.63 L407.90,279.63 L407.90,280.08 L410.10,280.08 L410.10,280.52 L412.30,280.52 L412.30,281.00 L414.50,281.00 L414.50,281.48 L416.70,281.48 L416.70,281.96 L418.90,281.96 L418.90,282.43 L421.10,282.43 L421.10,282.78 L423.30,282.78 L423.30,283.11 L425.50,283.11 L425.50,283.43 L427.70,283.43 L427.70,283.82 L429.90,283.82 L429.90,284.46 L432.10,284.46 L432.10,285.11 L434.30,285.11 L434.30,285.59 L436.50,285.59 L436.50,285.94 L438.70,285.94 L438.70,286.28 L440.90,286.28 L440.90,287.44 L443.10,287.44 L443.10,288.64 L445.30,288.64 L445.30,289.29 L447.50,289.29 L447.50,289.85 L449.70,289.85 L449.70,290.42 L451.90,290.42 L451.90,290.81 L454.10,290.81 L454.10,291.11 L456.30,291.11 L456.30,291.41 L458.50,291.41 L458.50,291.72 L460.70,291.72 L460.70,292.11 L462.90,292.11 L462.90,292.50 L465.10,292.50 L465.10,292.89 L467.30,292.89 L467.30,293.29 L469.50,293.29 L469.50,293.63 L471.70,293.63 L471.70,293.91 L473.90,293.91 L473.90,294.19 L476.10,294.19 L476.10,294.86 L478.30,294.86 L478.30,295.80 L480.50,295.80 L480.50,296.38 L482.70,296.38 L482.70,296.79 L484.90,296.79 L484.90,297.21 L487.10,297.21 L487.10,297.62 L489.30,297.62 L489.30,298.23 L491.50,298.23 L491.50,299.28 L493.70,299.28 L493.70,300.33 L495.90,300.33 L495.90,300.97 L498.10,300.97 L498.10,301.12 L500.30,301.12 L500.30,301.26 L502.50,301.26 L502.50,301.42 L504.70,301.42 L504.70,301.61 L506.90,301.61 L506.90,301.80 L508.10,301.80" fill="none" stroke="#7db24a" stroke-width="1.5" stroke-linejoin="round" stroke-dasharray="1.4,1.2"/>
<line x1="302.30" y1="257.70" x2="302.30" y2="419.80" stroke="#231f20" stroke-width="1.2"/>
<line x1="299.30" y1="260.00" x2="302.30" y2="260.00" stroke="#231f20" stroke-width="1.2"/>
<text x="296.00" y="262.50" font-size="8.2" text-anchor="end" textLength="13.40" lengthAdjust="spacingAndGlyphs">1.00</text>
<line x1="299.30" y1="299.80" x2="302.30" y2="299.80" stroke="#231f20" stroke-width="1.2"/>
<text x="296.00" y="302.30" font-size="8.2" text-anchor="end" textLength="13.40" lengthAdjust="spacingAndGlyphs">0.75</text>
<line x1="299.30" y1="339.60" x2="302.30" y2="339.60" stroke="#231f20" stroke-width="1.2"/>
<text x="296.00" y="342.10" font-size="8.2" text-anchor="end" textLength="13.40" lengthAdjust="spacingAndGlyphs">0.50</text>
<line x1="299.30" y1="379.40" x2="302.30" y2="379.40" stroke="#231f20" stroke-width="1.2"/>
<text x="296.00" y="381.90" font-size="8.2" text-anchor="end" textLength="13.40" lengthAdjust="spacingAndGlyphs">0.25</text>
<line x1="299.30" y1="419.20" x2="302.30" y2="419.20" stroke="#231f20" stroke-width="1.2"/>
<text x="296.00" y="421.70" font-size="8.2" text-anchor="end" textLength="13.40" lengthAdjust="spacingAndGlyphs">0.00</text>
<line x1="301.70" y1="419.20" x2="511.50" y2="419.20" stroke="#231f20" stroke-width="1.2"/>
<line x1="302.30" y1="419.20" x2="302.30" y2="422.20" stroke="#231f20" stroke-width="1.2"/>
<text x="302.30" y="432.50" font-size="8.2" text-anchor="middle" textLength="3.70" lengthAdjust="spacingAndGlyphs">0</text>
<line x1="322.91" y1="419.20" x2="322.91" y2="422.20" stroke="#231f20" stroke-width="1.2"/>
<text x="322.91" y="432.50" font-size="8.2" text-anchor="middle" textLength="3.70" lengthAdjust="spacingAndGlyphs">1</text>
<line x1="343.52" y1="419.20" x2="343.52" y2="422.20" stroke="#231f20" stroke-width="1.2"/>
<text x="343.52" y="432.50" font-size="8.2" text-anchor="middle" textLength="3.70" lengthAdjust="spacingAndGlyphs">2</text>
<line x1="364.13" y1="419.20" x2="364.13" y2="422.20" stroke="#231f20" stroke-width="1.2"/>
<text x="364.13" y="432.50" font-size="8.2" text-anchor="middle" textLength="3.70" lengthAdjust="spacingAndGlyphs">3</text>
<line x1="384.74" y1="419.20" x2="384.74" y2="422.20" stroke="#231f20" stroke-width="1.2"/>
<text x="384.74" y="432.50" font-size="8.2" text-anchor="middle" textLength="3.70" lengthAdjust="spacingAndGlyphs">4</text>
<line x1="405.35" y1="419.20" x2="405.35" y2="422.20" stroke="#231f20" stroke-width="1.2"/>
<text x="405.35" y="432.50" font-size="8.2" text-anchor="middle" textLength="3.70" lengthAdjust="spacingAndGlyphs">5</text>
<line x1="425.96" y1="419.20" x2="425.96" y2="422.20" stroke="#231f20" stroke-width="1.2"/>
<text x="425.96" y="432.50" font-size="8.2" text-anchor="middle" textLength="3.70" lengthAdjust="spacingAndGlyphs">6</text>
<line x1="446.57" y1="419.20" x2="446.57" y2="422.20" stroke="#231f20" stroke-width="1.2"/>
<text x="446.57" y="432.50" font-size="8.2" text-anchor="middle" textLength="3.70" lengthAdjust="spacingAndGlyphs">7</text>
<line x1="467.18" y1="419.20" x2="467.18" y2="422.20" stroke="#231f20" stroke-width="1.2"/>
<text x="467.18" y="432.50" font-size="8.2" text-anchor="middle" textLength="3.70" lengthAdjust="spacingAndGlyphs">8</text>
<line x1="487.79" y1="419.20" x2="487.79" y2="422.20" stroke="#231f20" stroke-width="1.2"/>
<text x="487.79" y="432.50" font-size="8.2" text-anchor="middle" textLength="3.70" lengthAdjust="spacingAndGlyphs">9</text>
<line x1="508.40" y1="419.20" x2="508.40" y2="422.20" stroke="#231f20" stroke-width="1.2"/>
<text x="508.40" y="432.50" font-size="8.2" text-anchor="middle" textLength="7.50" lengthAdjust="spacingAndGlyphs">10</text>
<text x="366.25" y="446.00" font-size="9.4" textLength="81.50" lengthAdjust="spacingAndGlyphs">Years post-diagnosis</text>
<text x="274.70" y="338.50" font-size="10.3" text-anchor="middle" textLength="60.70" lengthAdjust="spacingAndGlyphs" transform="rotate(-90 274.70 338.50)">Overall survival</text>
<text x="355.70" y="326.60" font-size="7.2" textLength="50.00" lengthAdjust="spacingAndGlyphs" class="lg">IgA at diagnosis</text>
<line x1="345.10" y1="336.00" x2="353.00" y2="336.00" stroke="#a8213b" stroke-width="1.6"/>
<line x1="345.10" y1="347.10" x2="353.00" y2="347.10" stroke="#3c5a8c" stroke-width="1.6"/>
<line x1="345.10" y1="358.70" x2="353.00" y2="358.70" stroke="#6aa443" stroke-width="1.4" stroke-dasharray="1.3,1.4"/>
<text x="355.70" y="338.20" font-size="7.2" textLength="79.00" lengthAdjust="spacingAndGlyphs" class="lg">10th percentile (0.52 g/L)</text>
<text x="355.70" y="349.20" font-size="7.2" textLength="79.00" lengthAdjust="spacingAndGlyphs" class="lg">50th percentile (1.42 g/L)</text>
<text x="355.70" y="360.80" font-size="7.2" textLength="79.00" lengthAdjust="spacingAndGlyphs" class="lg">90th percentile (3.05 g/L)</text>
<path d="M42.80,634.30 L60.00,634.30 L60.00,634.00 L64.60,634.00 L64.60,633.10 L67.50,633.10 L67.50,632.50 L70.40,632.50 L70.40,631.60 L75.00,631.60 L75.00,630.50 L78.50,630.50 L78.50,629.10 L81.90,629.10 L81.90,627.60 L84.80,627.60 L84.80,626.80 L90.00,626.80 L90.00,625.80 L94.60,625.80 L94.60,623.50 L96.90,623.50 L96.90,622.40 L100.40,622.40 L100.40,622.10 L103.80,622.10 L103.80,621.20 L107.30,621.20 L107.30,620.70 L109.60,620.70 L109.60,617.80 L113.00,617.80 L113.00,617.20 L115.40,617.20 L115.40,616.60 L121.30,616.60 L121.90,616.60 L121.90,613.60 L129.40,613.60 L129.40,613.30 L130.60,613.30 L130.60,609.90 L135.80,609.90 L135.80,609.30 L135.80,605.30 L138.10,605.30 L138.10,603.00 L140.40,603.00 L140.40,600.70 L152.50,600.70 L154.20,600.70 L154.20,597.20 L163.40,597.20 L165.70,597.20 L165.70,594.30 L183.10,594.30 L183.10,594.00 L183.70,594.00 L183.70,592.00 L186.10,592.00 L186.10,587.80 L192.60,587.80 L192.60,587.20 L193.80,587.20 L193.80,584.80 L195.60,584.80 L195.60,580.60 L208.10,580.60 L208.10,580.20 L209.30,580.20 L209.30,577.10 L209.90,577.10 L209.90,574.10 L222.40,574.10 L222.40,573.70 L223.00,573.70 L223.00,570.50 L226.60,570.50 L227.20,570.50 L227.20,567.50 L228.40,567.50 L228.40,562.80" fill="none" stroke="#a8213b" stroke-width="1.5" stroke-linejoin="miter"/>
<path d="M42.80,634.30 L69.20,634.30 L69.20,633.50 L77.30,633.50 L77.30,631.80 L84.20,631.80 L84.20,630.50 L92.30,630.50 L92.30,629.30 L96.90,629.30 L96.90,627.00 L101.50,627.00 L101.50,626.40 L107.30,626.40 L107.30,625.60 L110.70,625.60 L110.70,624.20 L123.70,624.20 L123.70,622.20 L131.70,622.20 L131.70,619.70 L136.30,619.70 L136.30,616.80 L138.60,616.80 L138.60,615.10 L154.80,615.10 L154.80,613.30 L165.70,613.30 L165.70,611.60 L175.00,611.60 L175.00,611.00 L183.70,611.00 L183.70,609.80 L186.70,609.80 L186.70,607.50 L195.60,607.50 L195.60,603.90 L197.40,603.90 L197.40,603.30 L209.90,603.30 L209.90,599.70 L223.00,599.70 L223.00,597.30 L227.20,597.30 L227.20,595.00 L228.40,595.00 L228.40,592.60" fill="none" stroke="#3c5a8c" stroke-width="1.5" stroke-linejoin="miter"/>
<path d="M42.80,634.40 L79.60,634.40 L79.60,633.90 L88.80,633.90 L88.80,632.80 L98.10,632.80 L98.10,632.20 L108.40,632.20 L108.40,631.60 L110.70,631.60 L110.70,630.50 L115.00,630.50 L135.80,630.50 L135.80,629.50 L139.20,629.50 L139.20,627.20 L151.90,627.20 L151.90,626.60 L164.60,626.60 L164.60,625.40 L175.00,625.40 L184.30,625.40 L184.30,624.20 L195.00,624.20 L195.00,623.00 L208.10,623.00 L208.10,621.80 L220.10,621.80 L220.10,620.60 L228.40,620.60 L228.40,619.40" fill="none" stroke="#6aa443" stroke-width="1.2" stroke-linejoin="round" stroke-dasharray="1.3,1.5"/>
<line x1="42.30" y1="488.60" x2="42.30" y2="635.50" stroke="#231f20" stroke-width="1.2"/>
<line x1="39.30" y1="491.20" x2="42.30" y2="491.20" stroke="#231f20" stroke-width="1.2"/>
<text x="37.00" y="493.70" font-size="8.2" text-anchor="end" textLength="13.40" lengthAdjust="spacingAndGlyphs">0.20</text>
<line x1="39.30" y1="527.20" x2="42.30" y2="527.20" stroke="#231f20" stroke-width="1.2"/>
<text x="37.00" y="529.70" font-size="8.2" text-anchor="end" textLength="13.40" lengthAdjust="spacingAndGlyphs">0.15</text>
<line x1="39.30" y1="563.20" x2="42.30" y2="563.20" stroke="#231f20" stroke-width="1.2"/>
<text x="37.00" y="565.70" font-size="8.2" text-anchor="end" textLength="13.40" lengthAdjust="spacingAndGlyphs">0.10</text>
<line x1="39.30" y1="599.20" x2="42.30" y2="599.20" stroke="#231f20" stroke-width="1.2"/>
<text x="37.00" y="601.70" font-size="8.2" text-anchor="end" textLength="13.40" lengthAdjust="spacingAndGlyphs">0.05</text>
<line x1="39.30" y1="635.20" x2="42.30" y2="635.20" stroke="#231f20" stroke-width="1.2"/>
<text x="37.00" y="637.70" font-size="8.2" text-anchor="end" textLength="13.40" lengthAdjust="spacingAndGlyphs">0.00</text>
<line x1="41.70" y1="634.90" x2="231.40" y2="634.90" stroke="#231f20" stroke-width="1.2"/>
<line x1="42.40" y1="634.90" x2="42.40" y2="637.90" stroke="#231f20" stroke-width="1.2"/>
<text x="42.40" y="647.70" font-size="8.2" text-anchor="middle" textLength="3.70" lengthAdjust="spacingAndGlyphs">0</text>
<line x1="61.00" y1="634.90" x2="61.00" y2="637.90" stroke="#231f20" stroke-width="1.2"/>
<text x="61.00" y="647.70" font-size="8.2" text-anchor="middle" textLength="3.70" lengthAdjust="spacingAndGlyphs">1</text>
<line x1="79.60" y1="634.90" x2="79.60" y2="637.90" stroke="#231f20" stroke-width="1.2"/>
<text x="79.60" y="647.70" font-size="8.2" text-anchor="middle" textLength="3.70" lengthAdjust="spacingAndGlyphs">2</text>
<line x1="98.20" y1="634.90" x2="98.20" y2="637.90" stroke="#231f20" stroke-width="1.2"/>
<text x="98.20" y="647.70" font-size="8.2" text-anchor="middle" textLength="3.70" lengthAdjust="spacingAndGlyphs">3</text>
<line x1="116.80" y1="634.90" x2="116.80" y2="637.90" stroke="#231f20" stroke-width="1.2"/>
<text x="116.80" y="647.70" font-size="8.2" text-anchor="middle" textLength="3.70" lengthAdjust="spacingAndGlyphs">4</text>
<line x1="135.40" y1="634.90" x2="135.40" y2="637.90" stroke="#231f20" stroke-width="1.2"/>
<text x="135.40" y="647.70" font-size="8.2" text-anchor="middle" textLength="3.70" lengthAdjust="spacingAndGlyphs">5</text>
<line x1="154.00" y1="634.90" x2="154.00" y2="637.90" stroke="#231f20" stroke-width="1.2"/>
<text x="154.00" y="647.70" font-size="8.2" text-anchor="middle" textLength="3.70" lengthAdjust="spacingAndGlyphs">6</text>
<line x1="172.60" y1="634.90" x2="172.60" y2="637.90" stroke="#231f20" stroke-width="1.2"/>
<text x="172.60" y="647.70" font-size="8.2" text-anchor="middle" textLength="3.70" lengthAdjust="spacingAndGlyphs">7</text>
<line x1="191.20" y1="634.90" x2="191.20" y2="637.90" stroke="#231f20" stroke-width="1.2"/>
<text x="191.20" y="647.70" font-size="8.2" text-anchor="middle" textLength="3.70" lengthAdjust="spacingAndGlyphs">8</text>
<line x1="209.80" y1="634.90" x2="209.80" y2="637.90" stroke="#231f20" stroke-width="1.2"/>
<text x="209.80" y="647.70" font-size="8.2" text-anchor="middle" textLength="3.70" lengthAdjust="spacingAndGlyphs">9</text>
<line x1="228.40" y1="634.90" x2="228.40" y2="637.90" stroke="#231f20" stroke-width="1.2"/>
<text x="228.40" y="647.70" font-size="8.2" text-anchor="middle" textLength="7.50" lengthAdjust="spacingAndGlyphs">10</text>
<text x="96.20" y="660.40" font-size="9.4" textLength="81.50" lengthAdjust="spacingAndGlyphs">Years post-diagnosis</text>
<text x="15.50" y="561.65" font-size="10.3" text-anchor="middle" textLength="165.50" lengthAdjust="spacingAndGlyphs" transform="rotate(-90 15.50 561.65)">Cumulative incidence of IgG replacement</text>
<text x="56.20" y="497.70" font-size="7.2" textLength="50.00" lengthAdjust="spacingAndGlyphs" class="lg">IgA at diagnosis</text>
<line x1="45.80" y1="507.10" x2="53.70" y2="507.10" stroke="#a8213b" stroke-width="1.6"/>
<line x1="45.80" y1="518.70" x2="53.70" y2="518.70" stroke="#3c5a8c" stroke-width="1.6"/>
<line x1="45.80" y1="529.70" x2="53.70" y2="529.70" stroke="#6aa443" stroke-width="1.4" stroke-dasharray="1.3,1.4"/>
<text x="56.20" y="509.20" font-size="7.2" textLength="79.00" lengthAdjust="spacingAndGlyphs" class="lg">10th percentile (0.52 g/L)</text>
<text x="56.20" y="520.10" font-size="7.2" textLength="79.00" lengthAdjust="spacingAndGlyphs" class="lg">50th percentile (1.42 g/L)</text>
<text x="56.20" y="531.20" font-size="7.2" textLength="79.00" lengthAdjust="spacingAndGlyphs" class="lg">90th percentile (3.05 g/L)</text>
<path d="M302.60,634.00 L326.90,634.00 L326.90,633.60 L331.50,633.60 L331.50,631.80 L336.10,631.80 L336.10,631.00 L339.60,631.00 L339.60,630.40 L342.50,630.40 L342.50,628.10 L347.70,628.10 L347.70,626.90 L353.40,626.90 L353.40,625.80 L356.90,625.80 L356.90,624.60 L359.80,624.60 L359.80,622.30 L366.10,622.30 L366.10,622.10 L370.70,622.10 L370.70,620.90 L373.10,620.90 L373.10,618.80 L377.30,618.80 L377.30,617.70 L385.40,617.70 L386.50,617.70 L386.50,614.80 L393.50,614.80 L393.50,614.40 L395.80,614.40 L395.80,611.30 L400.40,611.30 L400.40,607.30 L405.60,607.30 L405.60,603.60 L417.70,603.60 L417.70,603.40 L420.00,603.40 L420.00,600.40 L429.20,600.40 L429.20,600.20 L430.90,600.20 L430.90,598.80 L433.40,598.80 L433.40,596.60 L450.20,596.60 L451.50,596.60 L451.50,594.70 L454.20,594.70 L454.20,591.60 L460.30,591.60 L460.30,591.30 L462.30,591.30 L462.30,587.60 L463.60,587.60 L463.60,584.90 L476.40,584.90 L476.40,584.40 L477.80,584.40 L477.80,581.50 L478.70,581.50 L478.70,578.20 L491.20,578.20 L492.20,578.20 L492.20,575.10 L496.00,575.10 L496.60,575.10 L496.60,571.40 L498.00,571.40 L498.00,568.10" fill="none" stroke="#a8213b" stroke-width="1.5" stroke-linejoin="miter"/>
<path d="M302.60,634.00 L329.20,634.00 L329.20,633.60 L338.50,633.60 L338.50,632.50 L347.70,632.50 L347.70,630.40 L354.60,630.40 L354.60,629.20 L360.40,629.20 L360.40,627.80 L368.40,627.80 L368.40,627.10 L372.50,627.10 L372.50,625.80 L385.40,625.80 L385.40,625.20 L386.50,625.20 L386.50,623.40 L394.00,623.40 L396.30,623.40 L396.30,621.10 L399.80,621.10 L399.80,620.60 L401.50,620.60 L401.50,617.70 L405.60,617.70 L405.60,616.50 L418.30,616.50 L420.60,616.50 L420.60,614.50 L429.20,614.50 L429.20,614.30 L431.50,614.30 L431.50,613.60 L433.40,613.60 L433.40,612.50 L450.20,612.50 L454.20,612.50 L454.20,609.80 L460.30,609.80 L460.30,609.30 L463.60,609.30 L463.60,605.80 L476.40,605.80 L476.40,605.60 L478.50,605.60 L478.50,602.00 L491.20,602.00 L491.20,601.80 L492.60,601.80 L492.60,599.70 L496.00,599.70 L496.00,599.20 L497.30,599.20 L497.30,595.70" fill="none" stroke="#3c5a8c" stroke-width="1.5" stroke-linejoin="miter"/>
<path d="M302.60,634.20 L337.30,634.20 L337.30,633.90 L343.10,633.90 L343.10,632.50 L350.00,632.50 L350.00,631.30 L358.10,631.30 L358.10,629.80 L366.10,629.80 L366.10,629.20 L373.10,629.20 L373.10,627.50 L380.00,627.50 L380.00,626.90 L385.40,626.90 L391.10,626.90 L391.10,624.60 L400.40,624.60 L400.40,622.90 L403.80,622.90 L403.80,621.10 L418.30,621.10 L418.30,620.60 L430.40,620.60 L430.40,618.60 L433.80,618.60 L433.80,617.90 L450.20,617.90 L452.90,617.90 L452.90,615.50 L461.00,615.50 L461.00,614.50 L466.30,614.50 L466.30,611.80 L475.80,611.80 L475.80,611.10 L479.80,611.10 L479.80,609.50 L493.30,609.50 L493.30,607.80 L497.30,607.80 L497.30,605.10" fill="none" stroke="#6aa443" stroke-width="1.2" stroke-linejoin="round" stroke-dasharray="1.3,1.5"/>
<line x1="302.10" y1="481.20" x2="302.10" y2="635.40" stroke="#231f20" stroke-width="1.2"/>
<line x1="299.10" y1="483.70" x2="302.10" y2="483.70" stroke="#231f20" stroke-width="1.2"/>
<text x="296.20" y="486.20" font-size="8.2" text-anchor="end" textLength="13.40" lengthAdjust="spacingAndGlyphs">0.20</text>
<line x1="299.10" y1="521.45" x2="302.10" y2="521.45" stroke="#231f20" stroke-width="1.2"/>
<text x="296.20" y="523.95" font-size="8.2" text-anchor="end" textLength="13.40" lengthAdjust="spacingAndGlyphs">0.15</text>
<line x1="299.10" y1="559.20" x2="302.10" y2="559.20" stroke="#231f20" stroke-width="1.2"/>
<text x="296.20" y="561.70" font-size="8.2" text-anchor="end" textLength="13.40" lengthAdjust="spacingAndGlyphs">0.10</text>
<line x1="299.10" y1="596.95" x2="302.10" y2="596.95" stroke="#231f20" stroke-width="1.2"/>
<text x="296.20" y="599.45" font-size="8.2" text-anchor="end" textLength="13.40" lengthAdjust="spacingAndGlyphs">0.05</text>
<line x1="299.10" y1="634.70" x2="302.10" y2="634.70" stroke="#231f20" stroke-width="1.2"/>
<text x="296.20" y="637.20" font-size="8.2" text-anchor="end" textLength="13.40" lengthAdjust="spacingAndGlyphs">0.00</text>
<line x1="301.50" y1="634.80" x2="501.00" y2="634.80" stroke="#231f20" stroke-width="1.2"/>
<line x1="302.10" y1="634.80" x2="302.10" y2="637.80" stroke="#231f20" stroke-width="1.2"/>
<text x="302.10" y="647.70" font-size="8.2" text-anchor="middle" textLength="3.70" lengthAdjust="spacingAndGlyphs">0</text>
<line x1="321.70" y1="634.80" x2="321.70" y2="637.80" stroke="#231f20" stroke-width="1.2"/>
<text x="321.70" y="647.70" font-size="8.2" text-anchor="middle" textLength="3.70" lengthAdjust="spacingAndGlyphs">1</text>
<line x1="341.30" y1="634.80" x2="341.30" y2="637.80" stroke="#231f20" stroke-width="1.2"/>
<text x="341.30" y="647.70" font-size="8.2" text-anchor="middle" textLength="3.70" lengthAdjust="spacingAndGlyphs">2</text>
<line x1="360.90" y1="634.80" x2="360.90" y2="637.80" stroke="#231f20" stroke-width="1.2"/>
<text x="360.90" y="647.70" font-size="8.2" text-anchor="middle" textLength="3.70" lengthAdjust="spacingAndGlyphs">3</text>
<line x1="380.50" y1="634.80" x2="380.50" y2="637.80" stroke="#231f20" stroke-width="1.2"/>
<text x="380.50" y="647.70" font-size="8.2" text-anchor="middle" textLength="3.70" lengthAdjust="spacingAndGlyphs">4</text>
<line x1="400.10" y1="634.80" x2="400.10" y2="637.80" stroke="#231f20" stroke-width="1.2"/>
<text x="400.10" y="647.70" font-size="8.2" text-anchor="middle" textLength="3.70" lengthAdjust="spacingAndGlyphs">5</text>
<line x1="419.70" y1="634.80" x2="419.70" y2="637.80" stroke="#231f20" stroke-width="1.2"/>
<text x="419.70" y="647.70" font-size="8.2" text-anchor="middle" textLength="3.70" lengthAdjust="spacingAndGlyphs">6</text>
<line x1="439.30" y1="634.80" x2="439.30" y2="637.80" stroke="#231f20" stroke-width="1.2"/>
<text x="439.30" y="647.70" font-size="8.2" text-anchor="middle" textLength="3.70" lengthAdjust="spacingAndGlyphs">7</text>
<line x1="458.90" y1="634.80" x2="458.90" y2="637.80" stroke="#231f20" stroke-width="1.2"/>
<text x="458.90" y="647.70" font-size="8.2" text-anchor="middle" textLength="3.70" lengthAdjust="spacingAndGlyphs">8</text>
<line x1="478.50" y1="634.80" x2="478.50" y2="637.80" stroke="#231f20" stroke-width="1.2"/>
<text x="478.50" y="647.70" font-size="8.2" text-anchor="middle" textLength="3.70" lengthAdjust="spacingAndGlyphs">9</text>
<line x1="498.10" y1="634.80" x2="498.10" y2="637.80" stroke="#231f20" stroke-width="1.2"/>
<text x="498.10" y="647.70" font-size="8.2" text-anchor="middle" textLength="7.50" lengthAdjust="spacingAndGlyphs">10</text>
<text x="360.50" y="661.10" font-size="9.4" textLength="82.00" lengthAdjust="spacingAndGlyphs">Years post-diagnosis</text>
<text x="275.20" y="557.90" font-size="10.3" text-anchor="middle" textLength="165.60" lengthAdjust="spacingAndGlyphs" transform="rotate(-90 275.20 557.90)">Cumulative incidence of IgG replacement</text>
<text x="315.70" y="490.40" font-size="7.2" textLength="50.00" lengthAdjust="spacingAndGlyphs" class="lg">IgG at diagnosis</text>
<line x1="305.20" y1="499.80" x2="313.10" y2="499.80" stroke="#a8213b" stroke-width="1.6"/>
<line x1="305.20" y1="510.70" x2="313.10" y2="510.70" stroke="#3c5a8c" stroke-width="1.6"/>
<line x1="305.20" y1="522.40" x2="313.10" y2="522.40" stroke="#6aa443" stroke-width="1.4" stroke-dasharray="1.3,1.4"/>
<text x="315.70" y="501.90" font-size="7.2" textLength="79.00" lengthAdjust="spacingAndGlyphs" class="lg">10th percentile (5.46 g/L)</text>
<text x="315.70" y="512.80" font-size="7.2" textLength="79.00" lengthAdjust="spacingAndGlyphs" class="lg">50th percentile (8.80 g/L)</text>
<text x="315.70" y="524.30" font-size="7.2" textLength="82.40" lengthAdjust="spacingAndGlyphs" class="lg">90th percentile (13.20 g/L)</text>
<rect x="0" y="0" width="520" height="1" fill="#474747"/>
<rect x="0" y="1" width="520" height="1" fill="#b4b4b4"/>
<rect x="0" y="0" width="1" height="672" fill="#111"/>
<rect x="518" y="0" width="2" height="672" fill="#4a4a4a"/>
<rect x="0" y="670" width="520" height="2" fill="#4a4a4a"/>
</svg></div></body></html>
